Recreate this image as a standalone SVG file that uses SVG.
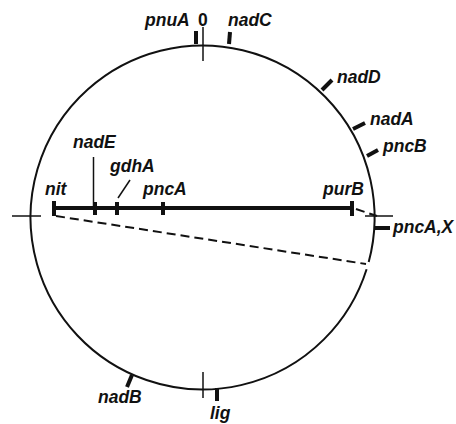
<svg xmlns="http://www.w3.org/2000/svg" width="456" height="424" viewBox="0 0 456 424">
<style>
.lbl{font-family:"Liberation Sans",Arial,sans-serif;font-size:17.5px;font-style:italic;font-weight:bold;fill:#111}
.num{font-family:"Liberation Sans",Arial,sans-serif;font-size:17.5px;font-weight:bold;fill:#111}
.circ{fill:none;stroke:#111;stroke-width:2}
.thin{stroke:#111;stroke-width:1.5;fill:none}
.tick{stroke:#111;stroke-width:4;fill:none}
.bar{stroke:#111;stroke-width:4;fill:none}
.dash{stroke:#111;stroke-width:2;stroke-dasharray:9 5;fill:none}
</style>
<rect width="456" height="424" fill="#fff"/>
<g id="chromosome">
<path class="circ" d="M 366.6 269.2 A 172 172 0 1 1 368.7 262"/>
<line class="thin" x1="203" y1="27" x2="203" y2="61"/>
<line class="thin" x1="203" y1="372" x2="203" y2="398"/>
<line class="thin" x1="12" y1="216" x2="41" y2="216"/>
<line class="thin" x1="365" y1="216" x2="393" y2="216"/>
<text class="num" x="198" y="26">0</text>
</g>
<g id="pnuA"><line class="tick" x1="196" y1="44" x2="196" y2="31"/><text class="lbl" x="145" y="26">pnuA</text></g>
<g id="nadC"><line class="tick" x1="229" y1="44" x2="230" y2="32"/><text class="lbl" x="228" y="26">nadC</text></g>
<g id="nadD"><line class="tick" x1="322" y1="90" x2="332" y2="80"/><text class="lbl" x="337" y="83">nadD</text></g>
<g id="nadA"><line class="tick" x1="353" y1="129" x2="365" y2="123"/><text class="lbl" x="370" y="125">nadA</text></g>
<g id="pncB"><line class="tick" x1="367" y1="156" x2="378" y2="150"/><text class="lbl" x="383" y="152">pncB</text></g>
<g id="pncAX"><line class="tick" x1="375" y1="228" x2="390" y2="228"/><text class="lbl" x="393" y="233">pncA,X</text></g>
<g id="nadB"><line class="tick" x1="132" y1="375" x2="127" y2="387"/><text class="lbl" x="98" y="403">nadB</text></g>
<g id="lig"><line class="tick" x1="217" y1="388" x2="217" y2="401"/><text class="lbl" x="210" y="419">lig</text></g>
<g id="map">
<line class="bar" x1="54" y1="208" x2="352" y2="208"/>
<line class="tick" x1="54" y1="201" x2="54" y2="216"/>
<line class="tick" x1="95" y1="202" x2="95" y2="215"/>
<line class="tick" x1="117" y1="202" x2="117" y2="215"/>
<line class="tick" x1="163" y1="202" x2="163" y2="215"/>
<line class="tick" x1="352" y1="201" x2="352" y2="216"/>
<line class="thin" x1="93.5" y1="157" x2="93.5" y2="208"/>
<line class="thin" x1="118" y1="198" x2="130" y2="180"/>
<text class="lbl" x="45" y="195">nit</text>
<text class="lbl" x="73" y="148">nadE</text>
<text class="lbl" x="110" y="172">gdhA</text>
<text class="lbl" x="143" y="195">pncA</text>
<text class="lbl" x="323" y="195">purB</text>
</g>
<g id="connectors">
<line class="dash" x1="56" y1="216" x2="366" y2="264"/>
<line class="dash" x1="356" y1="209" x2="377" y2="216"/>
</g>
</svg>
